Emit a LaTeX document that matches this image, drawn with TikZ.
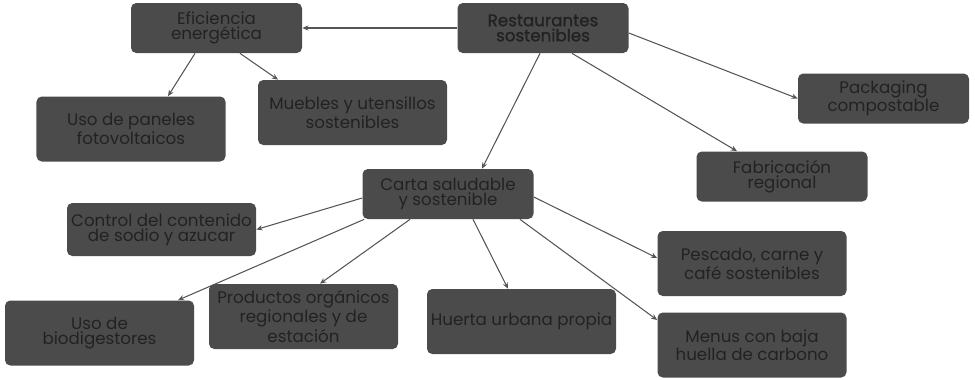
\documentclass[tikz,border=0pt]{standalone}
\usepackage{fontspec}
\setmainfont{Poppins}
\newfontfamily\medio{Poppins}[FakeBold=1.2]
\usepackage{tikz}
\usetikzlibrary{arrows.meta}
\definecolor{caja}{HTML}{4B4B4B}
\definecolor{letra}{HTML}{222222}
\definecolor{linea}{HTML}{555555}

\begin{document}
\begin{tikzpicture}[auto,
    box/.style={rectangle, rounded corners=3pt, fill=caja, text=letra, align=center,
      minimum width=3.42cm, minimum height=1cm, inner sep=0pt,
      font=\fontsize{9.5}{8.6}\selectfont},
    bigbox/.style={box, minimum width=3.78cm, minimum height=1.3cm},
    flecha/.style={draw=linea, line width=0.6pt, ->},
    >={Stealth[length=3.5pt,width=3pt]}]

    \useasboundingbox (0, 0) rectangle (19.5, -7.58);

    \node[box] (a) at (10.86, -0.56) {\medio Restaurantes\\\medio sostenibles};
    \node[box] (b) at (4.33, -0.56) {Eficiencia\\energética};
    \node[bigbox] (c) at (2.62, -2.58) {Uso de paneles\\fotovoltaicos};
    \node[bigbox] (d) at (7.05, -2.25) {Muebles y utensillos\\sostenibles};
    \node[box] (e) at (17.67, -1.97) {Packaging\\compostable};
    \node[box] (f) at (15.64, -3.53) {Fabricación\\regional};
    \node[box] (g) at (8.96, -3.88) {Carta saludable\\y sostenible};
    \node[bigbox, minimum height=1.06cm] (h) at (3.23, -4.59) {Control del contenido\\de sodio y azucar};
    \node[bigbox] (i) at (1.99, -6.66) {Uso de\\biodigestores};
    \node[bigbox] (j) at (6.07, -6.33) {Productos orgánicos\\regionales y de\\estación};
    \node[bigbox] (k) at (10.43, -6.43) {Huerta urbana propia};
    \node[bigbox] (l) at (15.04, -5.27) {Pescado, carne y\\café sostenibles};
    \node[bigbox] (m) at (15.04, -6.90) {Menus con baja\\huella de carbono};

    \draw [flecha] (a.west) to (b.east);
    \draw [flecha] ([xshift=-0.43cm]b.south) to ([xshift=0.74cm]c.north);
    \draw [flecha] ([xshift=0.47cm]b.south) to ([xshift=-1.49cm]d.north);
    \draw [flecha] ([xshift=-0.06cm]a.south) to ([xshift=0.68cm]g.north);
    \draw [flecha] ([xshift=0.58cm]a.south) to ([xshift=-0.9cm]f.north);
    \draw [flecha] ([yshift=-0.1cm]a.east) to (e.west);

    \draw [flecha] ([yshift=-0.08cm]g.west) to (h.east);
    \draw [flecha] ([xshift=0.04cm]g.south west) to ([xshift=1.57cm]i.north);
    \draw [flecha] ([xshift=-0.76cm]g.south) to ([xshift=0.33cm]j.north);
    \draw [flecha] ([xshift=0.5cm]g.south) to ([xshift=-0.27cm]k.north);
    \draw [flecha] ([xshift=1.44cm]g.south) to ([yshift=0.5cm]m.west);
    \draw [flecha] ([yshift=-0.06cm]g.east) to ([yshift=0.11cm]l.west);

  \end{tikzpicture}
\end{document}
